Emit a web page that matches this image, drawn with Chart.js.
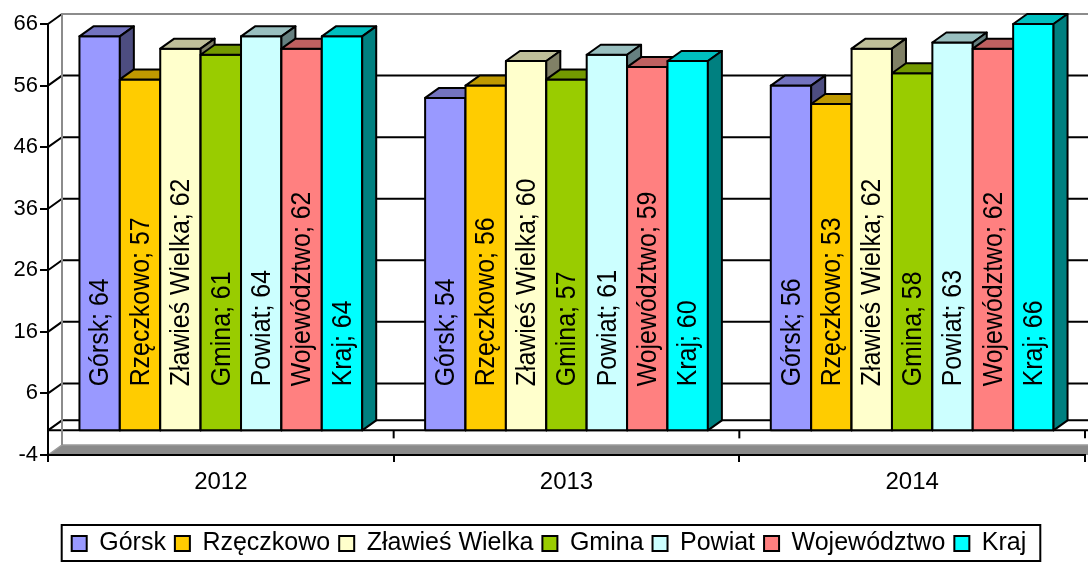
<!DOCTYPE html>
<html>
<head>
<meta charset="utf-8">
<script src="https://cdn.jsdelivr.net/npm/chart.js@4.4.0/dist/chart.umd.min.js"></script>
<style>
    html, body { margin: 0; padding: 0; background: #fff; }
    #wykres { display: block; }
</style>
</head>
<body>
<canvas id="wykres" width="1088" height="562"></canvas>
<script>
const lata = ['2012', '2013', '2014'];
const gorsk = [64, 54, 56];
const rzeczkowo = [57, 56, 53];
const zlawies = [62, 60, 62];
const gmina = [61, 57, 58];
const powiat = [64, 61, 63];
const wojewodztwo = [62, 59, 62];
const kraj = [64, 60, 66];
const osY = [-4, 6, 16, 26, 36, 46, 56, 66];

const nazwy = ['Górsk', 'Rzęczkowo', 'Zławieś Wielka', 'Gmina', 'Powiat', 'Województwo', 'Kraj'];
const serie = [gorsk, rzeczkowo, zlawies, gmina, powiat, wojewodztwo, kraj];
const kolory = ['#9999FF', '#FFCC00', '#FFFFCC', '#99CC00', '#CCFFFF', '#FF8080', '#00FFFF'];

// glebokosc efektu 3D (w pikselach)
const DX = 14, DY = -10;

Chart.defaults.font.family = "'Liberation Sans', Arial, sans-serif";
Chart.defaults.color = '#000';

const przyciemnij = (hex, f) => {
    const n = parseInt(hex.slice(1), 16);
    const r = Math.round(((n >> 16) & 255) * f);
    const g = Math.round(((n >> 8) & 255) * f);
    const b = Math.round((n & 255) * f);
    return `rgb(${r},${g},${b})`;
};

// sciany, podloga i linie siatki w stylu 3D
const sciany = {
    id: 'sciany',
    beforeDraw(chart) {
        const { ctx, chartArea: a, scales: { x, y } } = chart;
        const W = chart.width;
        const yMin = y.getPixelForValue(osY[0]);
        const yMax = y.getPixelForValue(osY[osY.length - 1]);
        const y0 = y.getPixelForValue(0);
        ctx.save();

        // podloga
        ctx.fillStyle = '#8a8a8a';
        ctx.beginPath();
        ctx.moveTo(a.left, yMin);
        ctx.lineTo(a.left + DX, yMin + DY);
        ctx.lineTo(W + DX, yMin + DY);
        ctx.lineTo(W, yMin);
        ctx.closePath();
        ctx.fill();
        ctx.strokeStyle = '#9c9c9c';
        ctx.lineWidth = 1.5;
        ctx.beginPath();
        ctx.moveTo(a.left, yMin);
        ctx.lineTo(a.left + DX, yMin + DY);
        ctx.lineTo(W, yMin + DY);
        ctx.stroke();

        // linie siatki na scianie
        ctx.strokeStyle = '#000';
        ctx.lineWidth = 2;
        const wartosci = osY.slice(1, -1).concat([0]);
        wartosci.forEach(v => {
            const py = y.getPixelForValue(v);
            ctx.beginPath();
            ctx.moveTo(a.left, py);
            ctx.lineTo(a.left + DX, py + DY);
            ctx.lineTo(W, py + DY);
            ctx.stroke();
        });
        ctx.beginPath();
        ctx.moveTo(a.left, yMax);
        ctx.lineTo(a.left + DX, yMax + DY);
        ctx.stroke();

        // linia przednia na poziomie 0 i znaczniki kategorii
        ctx.beginPath();
        ctx.moveTo(a.left, y0);
        ctx.lineTo(W, y0);
        ctx.stroke();
        const szer = (a.right - a.left) / lata.length;
        for (let i = 1; i <= lata.length; i++) {
            const px = a.left + i * szer;
            ctx.beginPath();
            ctx.moveTo(px, y0);
            ctx.lineTo(px, y0 + 8);
            ctx.stroke();
        }

        // krawedzie sciany
        ctx.strokeStyle = '#8c8c8c';
        ctx.lineWidth = 2;
        ctx.beginPath();
        ctx.moveTo(a.left + DX, yMin + DY);
        ctx.lineTo(a.left + DX, yMax + DY);
        ctx.lineTo(W, yMax + DY);
        ctx.stroke();
        ctx.restore();
    }
};

// slupki 3D i etykiety danych
const slupki3d = {
    id: 'slupki3d',
    afterDatasetsDraw(chart) {
        const { ctx } = chart;
        ctx.save();
        ctx.lineWidth = 2;
        ctx.strokeStyle = '#000';
        ctx.lineJoin = 'round';
        lata.forEach((rok, i) => {
            serie.forEach((dane, d) => {
                const el = chart.getDatasetMeta(d).data[i];
                const { x, y, base, width } = el.getProps(['x', 'y', 'base', 'width'], true);
                const l = x - width / 2, r = x + width / 2;
                // przod
                ctx.fillStyle = kolory[d];
                ctx.fillRect(l, y, width, base - y);
                ctx.strokeRect(l, y, width, base - y);
                // gora
                ctx.fillStyle = przyciemnij(kolory[d], 0.75);
                ctx.beginPath();
                ctx.moveTo(l, y);
                ctx.lineTo(l + DX, y + DY);
                ctx.lineTo(r + DX, y + DY);
                ctx.lineTo(r, y);
                ctx.closePath();
                ctx.fill();
                ctx.stroke();
                // bok
                ctx.fillStyle = przyciemnij(kolory[d], 0.5);
                ctx.beginPath();
                ctx.moveTo(r, y);
                ctx.lineTo(r + DX, y + DY);
                ctx.lineTo(r + DX, base + DY);
                ctx.lineTo(r, base);
                ctx.closePath();
                ctx.fill();
                ctx.stroke();
            });
        });
        // etykiety (lekko zwezone, jak w oryginale)
        ctx.fillStyle = '#000';
        ctx.font = "28px 'Liberation Sans', Arial, sans-serif";
        ctx.textAlign = 'left';
        ctx.textBaseline = 'middle';
        serie.forEach((dane, d) => {
            chart.getDatasetMeta(d).data.forEach((el, i) => {
                const { x, base } = el.getProps(['x', 'base'], true);
                ctx.save();
                ctx.translate(x, base - 44);
                ctx.rotate(-Math.PI / 2);
                ctx.scale(0.89, 1);
                ctx.fillText(`${nazwy[d]}; ${dane[i]}`, 0, 1);
                ctx.restore();
            });
        });
        ctx.restore();
    }
};

// ramka legendy
const ramkaLegendy = {
    id: 'ramkaLegendy',
    afterDraw(chart) {
        const lg = chart.legend;
        if (!lg || !lg.legendHitBoxes.length) return;
        const hb = lg.legendHitBoxes;
        const l = Math.min(...hb.map(b => b.left)) - 10;
        const r = Math.max(...hb.map(b => b.left + b.width)) + 14;
        const t = hb[0].top - 6;
        const b = chart.height - 1;
        const { ctx } = chart;
        ctx.save();
        ctx.strokeStyle = '#000';
        ctx.lineWidth = 2;
        ctx.strokeRect(l, t, r - l, b - t);
        ctx.restore();
    }
};

new Chart(document.getElementById('wykres'), {
    type: 'bar',
    data: {
        labels: lata,
        datasets: serie.map((dane, d) => ({
            label: nazwy[d],
            data: dane,
            backgroundColor: kolory[d],
            borderColor: '#000',
            borderWidth: 2
        }))
    },
    options: {
        responsive: false,
        animation: false,
        layout: { padding: { top: 24, left: 13, right: 3, bottom: -4 } },
        datasets: {
            bar: { categoryPercentage: 0.818, barPercentage: 1 }
        },
        scales: {
            x: {
                grid: { drawOnChartArea: false, tickLength: 7, color: '#000', lineWidth: 2 },
                border: { display: true, color: '#000', width: 2 },
                ticks: { color: '#000', font: { size: 24 }, padding: 6 },
                afterFit: (s) => { s.height = 67; }
            },
            y: {
                min: osY[0],
                max: osY[osY.length - 1],
                afterBuildTicks: (s) => { s.ticks = osY.map(v => ({ value: v })); },
                grid: { drawOnChartArea: false, tickLength: 8, color: '#000', lineWidth: 2 },
                border: { display: true, color: '#000', width: 2 },
                ticks: { color: '#000', font: { size: 22 }, padding: 2 },
                afterFit: (s) => { s.width = 35; }
            }
        },
        plugins: {
            legend: {
                position: 'bottom',
                labels: {
                    boxWidth: 15,
                    boxHeight: 15,
                    padding: 9,
                    color: '#000',
                    font: { size: 25 }
                }
            },
            tooltip: { enabled: false }
        }
    },
    plugins: [sciany, slupki3d, ramkaLegendy]
});
</script>
</body>
</html>
